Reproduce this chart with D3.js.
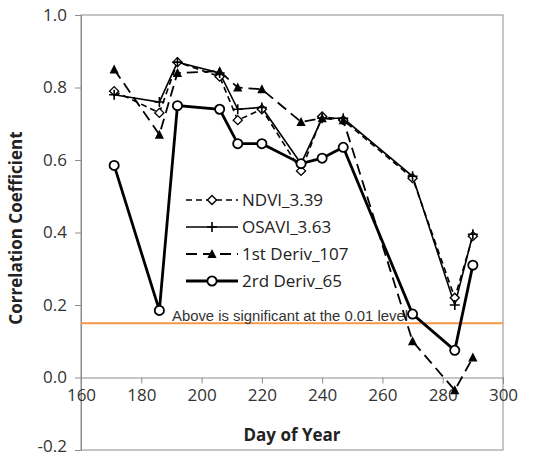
<!DOCTYPE html>
<html>
<head>
<meta charset="utf-8">
<script src="https://cdn.jsdelivr.net/npm/d3@7"></script>
<style>
  body { margin: 0; background: #fff; }
  text { font-family: "Open Sans", "Liberation Sans", sans-serif; }
</style>
</head>
<body>
<div id="chart"></div>
<script>
// day of year for every sampling date
var days = [171, 186, 192, 206, 212, 220, 233, 240, 247, 270, 284, 290];

// correlation coefficients
var ndvi   = [0.79, 0.73, 0.87, 0.83, 0.71, 0.74, 0.57, 0.72, 0.71, 0.55, 0.22, 0.39];
var osavi  = [0.78, 0.76, 0.87, 0.84, 0.74, 0.745, 0.59, 0.715, 0.715, 0.555, 0.20, 0.395];
var deriv1 = [0.85, 0.67, 0.84, 0.845, 0.80, 0.795, 0.705, 0.715, 0.71, 0.10, -0.035, 0.055];
var deriv2 = [0.585, 0.185, 0.75, 0.74, 0.645, 0.645, 0.59, 0.605, 0.635, 0.175, 0.075, 0.31];

var seriesNames = ["NDVI_3.39", "OSAVI_3.63", "1st Deriv_107", "2rd Deriv_65"];
var xTicks = [160, 180, 200, 220, 240, 260, 280, 300];
var yTicks = [-0.2, 0.0, 0.2, 0.4, 0.6, 0.8, 1.0];
var threshold = 0.15;
var thresholdLabel = "Above is significant at the 0.01 level";

var W = 545, H = 457;
var plot = { left: 81, right: 503, top: 15, bottom: 450 };

var svg = d3.select("#chart").append("svg")
    .attr("width", W)
    .attr("height", H);

var x = d3.scaleLinear().domain([160, 300]).range([plot.left, plot.right]);
var y = d3.scaleLinear().domain([-0.2, 1.0]).range([plot.bottom, plot.top]);

var axisColor = "#8c8c8c";

// plot area frame (top / right / bottom)
svg.append("rect")
    .attr("x", plot.left).attr("y", plot.top)
    .attr("width", plot.right - plot.left).attr("height", plot.bottom - plot.top)
    .attr("fill", "none")
    .attr("stroke", axisColor)
    .attr("stroke-width", 1);

// y axis
var yAxis = svg.append("g")
    .attr("transform", "translate(" + plot.left + ",0)")
    .call(d3.axisLeft(y).tickValues(yTicks).tickFormat(d3.format(".1f")).tickSizeOuter(0).tickSize(6).tickPadding(8));

// x axis sits on y = 0
var xAxis = svg.append("g")
    .attr("transform", "translate(0," + y(0) + ")")
    .call(d3.axisBottom(x).tickValues(xTicks).tickSizeOuter(0).tickSize(6).tickPadding(5));

[yAxis, xAxis].forEach(function (g) {
    g.selectAll("path, line").attr("stroke", axisColor);
    g.selectAll("text")
        .attr("fill", "#333")
        .style("font-size", "17px")
        .style("font-family", "'Open Sans', sans-serif");
});
yAxis.selectAll("text")
    .text(function (d) { return d3.format(".1f")(d).replace("−", "-"); })
    .attr("dy", function (d) { return d < 0 ? "0.1em" : "0.32em"; });

// significance line
svg.append("line")
    .attr("x1", plot.left).attr("x2", plot.right)
    .attr("y1", y(threshold)).attr("y2", y(threshold))
    .attr("stroke", "#f79646")
    .attr("stroke-width", 2);

svg.append("text")
    .attr("x", x(190.2))
    .attr("y", y(threshold) - 2)
    .attr("fill", "#333")
    .attr("textLength", 236)
    .attr("lengthAdjust", "spacingAndGlyphs")
    .style("font-size", "14px")
    .style("font-family", "'Liberation Sans', sans-serif")
    .text(thresholdLabel);

// series definitions
var line = d3.line()
    .x(function (d) { return x(d.day); })
    .y(function (d) { return y(d.value); });

function pack(values) {
    return values.map(function (v, i) { return { day: days[i], value: v }; });
}

var series = [
    { name: seriesNames[0], values: pack(ndvi),   dash: "6,4",  width: 1.6, marker: "diamond" },
    { name: seriesNames[1], values: pack(osavi),  dash: null,   width: 1.6, marker: "plus" },
    { name: seriesNames[2], values: pack(deriv1), dash: "11,6", width: 1.8, marker: "triangle" },
    { name: seriesNames[3], values: pack(deriv2), dash: null,   width: 2.8, marker: "circle" }
];

function drawMarker(g, type) {
    if (type === "diamond") {
        g.append("path")
            .attr("d", "M0,-4.5L4.5,0L0,4.5L-4.5,0Z")
            .attr("fill", "#fff").attr("stroke", "#000").attr("stroke-width", 1.4);
    } else if (type === "plus") {
        g.append("path")
            .attr("d", "M-5,0H5M0,-5V5")
            .attr("stroke", "#000").attr("stroke-width", 1.6);
    } else if (type === "triangle") {
        g.append("path")
            .attr("d", "M0,-5L4.6,4L-4.6,4Z")
            .attr("fill", "#000");
    } else if (type === "circle") {
        g.append("circle")
            .attr("r", 4.6)
            .attr("fill", "#fff").attr("stroke", "#000").attr("stroke-width", 1.8);
    }
}

series.forEach(function (s) {
    svg.append("path")
        .datum(s.values)
        .attr("d", line)
        .attr("fill", "none")
        .attr("stroke", "#000")
        .attr("stroke-width", s.width)
        .attr("stroke-dasharray", s.dash);
});

series.forEach(function (s) {
    svg.selectAll(null)
        .data(s.values)
        .enter()
        .append("g")
        .attr("transform", function (d) { return "translate(" + x(d.day) + "," + y(d.value) + ")"; })
        .each(function () { drawMarker(d3.select(this), s.marker); });
});

// legend
var legend = svg.append("g").attr("transform", "translate(186,200)");
series.forEach(function (s, i) {
    var row = legend.append("g").attr("transform", "translate(0," + (i * 27) + ")");
    row.append("line")
        .attr("x1", 0).attr("x2", 52)
        .attr("stroke", "#000")
        .attr("stroke-width", s.width)
        .attr("stroke-dasharray", s.dash);
    var m = row.append("g").attr("transform", "translate(26,0)");
    drawMarker(m, s.marker);
    row.append("text")
        .attr("x", 56)
        .attr("dy", "0.35em")
        .attr("fill", "#222")
        .style("font-size", "17px")
        .text(s.name);
});

// axis titles
svg.append("text")
    .attr("transform", "translate(22,228) rotate(-90)")
    .attr("text-anchor", "middle")
    .attr("fill", "#222")
    .style("font-size", "17px")
    .style("font-weight", "bold")
    .text("Correlation Coefficient");

svg.append("text")
    .attr("x", (plot.left + plot.right) / 2)
    .attr("y", 441)
    .attr("text-anchor", "middle")
    .attr("fill", "#222")
    .style("font-size", "17px")
    .style("font-weight", "bold")
    .text("Day of Year");
</script>
</body>
</html>
